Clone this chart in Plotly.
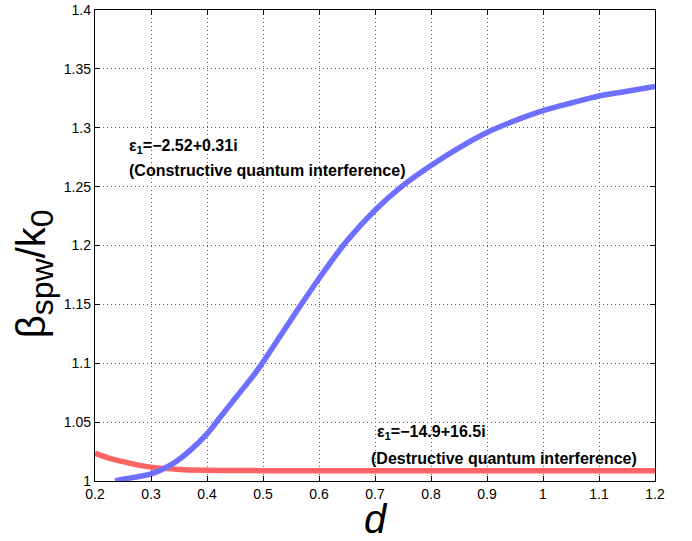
import plotly.graph_objects as go

# Blue curve: eps1 = -2.52+0.31i (constructive)
d_blue = [0.236, 0.25, 0.30, 0.34, 0.37, 0.40, 0.42, 0.45, 0.482, 0.50, 0.55, 0.60,
          0.65, 0.70, 0.75, 0.80, 0.85, 0.90, 0.95, 1.00, 1.05, 1.10, 1.15, 1.20]
beta_blue = [1.000, 1.0015, 1.006, 1.015, 1.026, 1.040, 1.052, 1.070, 1.089, 1.101, 1.137, 1.172,
             1.204, 1.230, 1.251, 1.268, 1.283, 1.296, 1.306, 1.3145, 1.321, 1.327, 1.331, 1.335]

# Red curve: eps1 = -14.9+16.5i (destructive)
d_red = [0.20, 0.225, 0.25, 0.275, 0.30, 0.35, 0.40, 0.50, 0.60, 0.70, 0.80, 0.90, 1.00, 1.10, 1.20]
beta_red = [1.0235, 1.0195, 1.0164, 1.0137, 1.0118, 1.0098, 1.0091, 1.0088, 1.0087, 1.0087,
            1.0087, 1.0087, 1.0087, 1.0087, 1.0087]

x_ticks = [0.2, 0.3, 0.4, 0.5, 0.6, 0.7, 0.8, 0.9, 1.0, 1.1, 1.2]
x_ticklabels = ["0.2", "0.3", "0.4", "0.5", "0.6", "0.7", "0.8", "0.9", "1", "1.1", "1.2"]
y_ticks = [1.0, 1.05, 1.1, 1.15, 1.2, 1.25, 1.3, 1.35, 1.4]
y_ticklabels = ["1", "1.05", "1.1", "1.15", "1.2", "1.25", "1.3", "1.35", "1.4"]

FONT = "Liberation Sans, Arial, Helvetica, sans-serif"

fig = go.Figure()
fig.add_trace(go.Scatter(x=d_red, y=beta_red, mode="lines",
                         line=dict(color="rgb(255,100,100)", width=5.5, shape="spline"),
                         showlegend=False))
fig.add_trace(go.Scatter(x=d_blue, y=beta_blue, mode="lines",
                         line=dict(color="rgb(110,110,255)", width=5.5, shape="spline"),
                         showlegend=False))

axis_common = dict(
    showline=True, linecolor="black", linewidth=1.3, mirror="ticks",
    ticks="inside", ticklen=5, tickcolor="black", tickwidth=1,
    showgrid=True, gridcolor="rgb(90,90,90)", gridwidth=1, griddash="1px,3px",
    zeroline=False, automargin=False,
    tickfont=dict(family=FONT, size=14, color="black"),
)

fig.update_xaxes(range=[0.2, 1.2], tickvals=x_ticks, ticktext=x_ticklabels,
                 title=dict(text="<i>d</i>", font=dict(family=FONT, size=40, color="black"), standoff=5),
                 **axis_common)
fig.update_yaxes(range=[1.0, 1.4], tickvals=y_ticks, ticktext=y_ticklabels, **axis_common)

# y-axis title (placed as rotated text so it can sit slightly below centre, as in the original)
fig.add_annotation(
    x=-0.108, y=0.44, xref="paper", yref="paper", xanchor="center", yanchor="middle",
    textangle=-90, showarrow=False,
    text="β<sub><span style='font-size:32px'>spw</span></sub>/k<sub><span style='font-size:32px'>0</span></sub>",
    font=dict(family=FONT, size=40, color="black"),
)

ann_font = dict(family=FONT, size=16, color="black")
fig.add_annotation(x=0.257, y=1.2845, xref="x", yref="y", xanchor="left", yanchor="middle", showarrow=False,
                   text="<b>ε<sub>1</sub>=−2.52+0.31i</b>", font=ann_font)
fig.add_annotation(x=0.257, y=1.2641, xref="x", yref="y", xanchor="left", yanchor="middle", showarrow=False,
                   text="<b>(Constructive quantum interference)</b>", font=ann_font)
fig.add_annotation(x=0.7, y=1.0408, xref="x", yref="y", xanchor="left", yanchor="middle", showarrow=False,
                   text="<b>ε<sub>1</sub>=−14.9+16.5i</b>", font=ann_font)
fig.add_annotation(x=0.6898, y=1.0193, xref="x", yref="y", xanchor="left", yanchor="middle", showarrow=False,
                   text="<b>(Destructive quantum interference)</b>", font=ann_font)

fig.update_layout(
    width=692, height=541,
    margin=dict(l=95, r=37, t=10, b=60),
    paper_bgcolor="white", plot_bgcolor="white",
    font=dict(family=FONT, color="black"),
)

fig.write_html("out.html", config={"displayModeBar": False},
               post_script="document.body.style.margin='0';document.body.style.overflow='hidden';")
